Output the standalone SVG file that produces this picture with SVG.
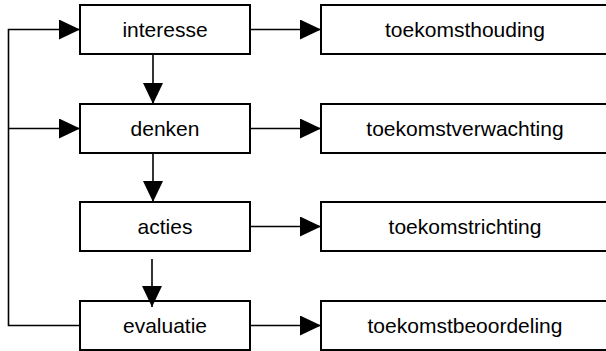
<svg xmlns="http://www.w3.org/2000/svg" width="606" height="351" viewBox="0 0 606 351">
<style>
.box{fill:#fff;stroke:#000;stroke-width:2}
.lbl{font-family:"Liberation Sans",Arial,sans-serif;font-size:21px;fill:#000;text-anchor:middle}
.ln{fill:none;stroke:#000;stroke-width:1.6}
</style>
<defs>
<marker id="ah" markerUnits="userSpaceOnUse" markerWidth="22" markerHeight="20" refX="21" refY="10" orient="auto" viewBox="0 0 22 20">
<path d="M0,0 L21,10 L0,20 Z" fill="#000"/>
</marker>
</defs>
<rect width="606" height="351" fill="#fff"/>
<g id="interesse"><rect class="box" x="80" y="5" width="170" height="49"/><text class="lbl" x="165" y="37">interesse</text></g>
<g id="denken"><rect class="box" x="80" y="104" width="170" height="49"/><text class="lbl" x="165" y="136">denken</text></g>
<g id="acties"><rect class="box" x="80" y="202" width="170" height="49"/><text class="lbl" x="165" y="234">acties</text></g>
<g id="evaluatie"><rect class="box" x="80" y="301" width="170" height="49"/><text class="lbl" x="165" y="333">evaluatie</text></g>
<g id="toekomsthouding"><rect class="box" x="321" y="5" width="288" height="49"/><text class="lbl" x="465" y="37">toekomsthouding</text></g>
<g id="toekomstverwachting"><rect class="box" x="321" y="104" width="288" height="49"/><text class="lbl" x="465" y="136">toekomstverwachting</text></g>
<g id="toekomstrichting"><rect class="box" x="321" y="202" width="288" height="49"/><text class="lbl" x="465" y="234">toekomstrichting</text></g>
<g id="toekomstbeoordeling"><rect class="box" x="321" y="301" width="288" height="49"/><text class="lbl" x="465" y="333">toekomstbeoordeling</text></g>
<g id="connectors">
<polyline class="ln" points="80,325.5 8.5,325.5 8.5,29.5 80,29.5" marker-end="url(#ah)"/>
<line class="ln" x1="8.5" y1="128.5" x2="80" y2="128.5" marker-end="url(#ah)"/>
<line class="ln" x1="153" y1="54" x2="153" y2="104" marker-end="url(#ah)"/>
<line class="ln" x1="153" y1="153" x2="153" y2="202" marker-end="url(#ah)"/>
<line class="ln" x1="152" y1="259" x2="152" y2="307" marker-end="url(#ah)"/>
<line class="ln" x1="250" y1="29.5" x2="321" y2="29.5" marker-end="url(#ah)"/>
<line class="ln" x1="250" y1="128.5" x2="321" y2="128.5" marker-end="url(#ah)"/>
<line class="ln" x1="250" y1="226.5" x2="321" y2="226.5" marker-end="url(#ah)"/>
<line class="ln" x1="250" y1="325.5" x2="321" y2="325.5" marker-end="url(#ah)"/>
</g>
</svg>
